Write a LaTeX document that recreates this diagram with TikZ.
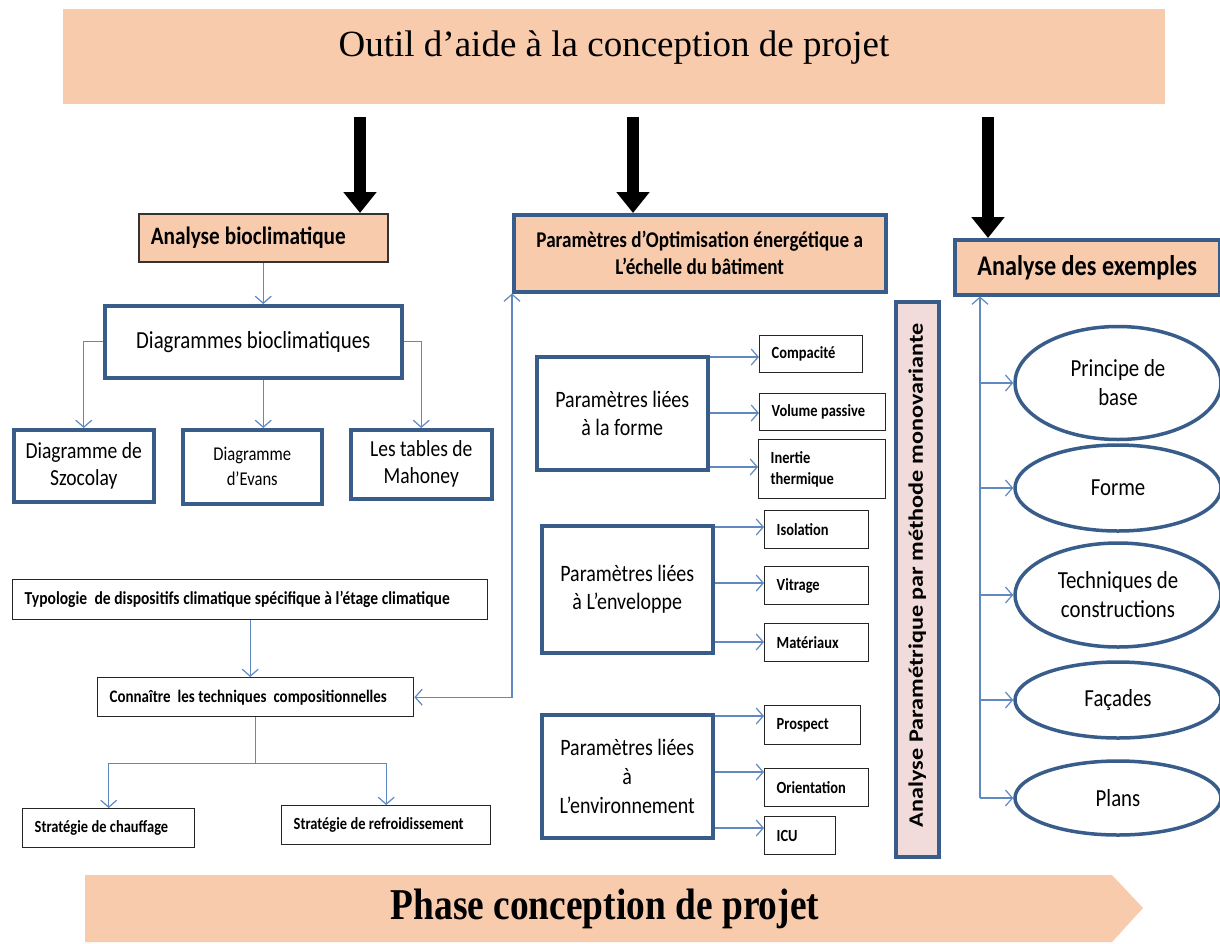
\documentclass[tikz,border=0pt]{standalone}
\usepackage{fontspec}
\setmainfont{Carlito}[FakeStretch=0.85]
\newfontfamily\vertf{Carlito}[FakeStretch=1.18]
\newfontfamily\timesf{Liberation Serif}
\newfontfamily\timesc{Liberation Serif}[FakeStretch=0.85]
\usetikzlibrary{arrows.meta,shapes.geometric,calc}
\definecolor{peach}{HTML}{F8CBAD}
\definecolor{bblue}{HTML}{385D8A}
\definecolor{cblue}{HTML}{5F89C0}
\definecolor{pinkf}{HTML}{F2DCDB}
\newcommand\fsz[2]{\fontsize{#1pt}{#2pt}\selectfont}
\newcommand\fss[2]{\fontsize{#1pt}{#2pt}\selectfont\spaceskip=0.2em plus 0.1em minus 0.05em\relax}
\begin{document}
\begin{tikzpicture}[x=1pt,y=-1pt,
  thickbox/.style={draw=bblue, line width=3.5pt, fill=white, anchor=north west, inner sep=0pt, align=center},
  thinbox/.style={draw=black!85, line width=1.4pt, fill=white, anchor=north west, inner ysep=0pt, inner xsep=12pt, align=flush left, font=\bfseries\fss{17}{21}},
  conn/.style={draw=cblue, line width=1.2pt, -{Straight Barb[length=7pt,width=16pt]}},
  bigarrow/.style={line width=12pt, -{Triangle[length=21pt,width=32pt]}},
  ell/.style={ellipse, draw=bblue, line width=3.5pt, fill=white, inner sep=0pt, align=center, minimum width=206, font=\fsz{24.5}{29}}
]
\useasboundingbox (0,0) rectangle (1220,943);
\fill[white] (0,0) rectangle (1220,943);

% title banner
\fill[peach] (63,9) rectangle (1165,104);
\node[font=\timesf\fsz{37}{40}] (title) at (614,48) {Outil d’aide à la conception de projet};

% bottom banner
\fill[peach] (85,875) -- (1112,875) -- (1143,908) -- (1112,942) -- (85,942) -- cycle;
\node[font=\timesc\bfseries\fsz{44}{46}] (phase) at (605,909) {Phase conception de projet};

% ---------- left column ----------
\node[draw=black!80, line width=1.5pt, fill=peach, anchor=north west, inner xsep=12pt, inner ysep=0pt, text width=225pt, minimum height=48, align=flush left, font=\bfseries\fss{25}{26}] (ab) at (138,213) {Analyse bioclimatique};
\node[thickbox, minimum width=297, minimum height=72, font=\fsz{24.5}{28}] (dg) at (103,304) {Diagrammes bioclimatiques};
\node[thickbox, minimum width=140, minimum height=72, font=\fsz{23}{27}] (sz) at (12,428) {Diagramme de\\Szocolay};
\node[thickbox, minimum width=139, minimum height=74, font=\fsz{19.5}{25}] (ev) at (181,428) {Diagramme\\d’Evans};
\node[thickbox, minimum width=141, minimum height=69, font=\fsz{23}{27}] (mh) at (349,428) {Les tables de\\Mahoney};

\node[thinbox, text width=451pt, minimum height=40, font=\bfseries\fss{18.3}{20}] (ty) at (12,579) {Typologie\ \ de dispositifs climatique spécifique à l’étage climatique};
\node[thinbox, text width=292pt, minimum height=39, font=\bfseries\fss{17.6}{20}] (cn) at (97,677) {Connaître\ \ les techniques\ \ compositionnelles};
\node[thinbox, text width=148pt, minimum height=39, font=\bfseries\fss{17}{20}] (ch) at (22,808) {Stratégie de chauffage};
\node[thinbox, text width=185pt, minimum height=39, font=\bfseries\fss{17}{20}] (rf) at (281,805) {Stratégie de refroidissement};

% ---------- middle column ----------
\node[thickbox, fill=peach, minimum width=372, minimum height=77, font=\bfseries\fsz{22.5}{27}] (po) at (512,213) {Paramètres d’Optimisation énergétique a\\L’échelle du bâtiment};
\node[thickbox, minimum width=171, minimum height=113, font=\fsz{23.5}{28}] (pf) at (535,355) {Paramètres liées\\à la forme};
\node[thickbox, minimum width=171, minimum height=127, font=\fsz{23.5}{28}] (pe) at (540,524) {Paramètres liées\\à L’enveloppe};
\node[thickbox, minimum width=171, minimum height=123, font=\fsz{23.5}{29}] (pv) at (540,713) {Paramètres liées\\à\\L’environnement};

\node[thinbox, text width=79pt, minimum height=37] (c1) at (759,335) {Compacité};
\node[thinbox, text width=102pt, minimum height=37] (c2) at (759,393) {Volume passive};
\node[thinbox, text width=103pt, minimum height=59] (c3) at (758,439) {Inertie\\thermique};
\node[thinbox, text width=80pt, minimum height=38] (e1) at (764,510) {Isolation};
\node[thinbox, text width=80pt, minimum height=38] (e2) at (764,566) {Vitrage};
\node[thinbox, text width=80pt, minimum height=38] (e3) at (764,623) {Matériaux};
\node[thinbox, text width=72pt, minimum height=39] (v1) at (764,705) {Prospect};
\node[thinbox, text width=80pt, minimum height=38] (v2) at (764,768) {Orientation};
\node[thinbox, text width=47pt, minimum height=38] (v3) at (764,816) {ICU};

\node[thickbox, fill=pinkf, minimum width=43, minimum height=555] (am) at (894,300) {};
\node[rotate=90, font=\vertf\bfseries\fsz{20.5}{24}] (amt) at ($(am.center)+(0,-4)$) {Analyse Paramétrique par méthode monovariante};

% ---------- right column ----------
\node[thickbox, fill=peach, minimum width=265, minimum height=55, font=\bfseries\fsz{28.5}{30}] (ae) at (953,238) {Analyse des exemples};
\node[ell, minimum height=113] (pb) at (1118,383) {Principe de\\base};
\node[ell, minimum height=86] (fo) at (1118,488) {Forme};
\node[ell, minimum height=104] (tc) at (1118,595) {Techniques de\\constructions};
\node[ell, minimum height=76] (fa) at (1118,700) {Façades};
\node[ell, minimum height=74] (pl) at (1118,798) {Plans};

% ---------- big black arrows ----------
\coordinate (a1) at (360,117);
\coordinate (a2) at (633,117);
\coordinate (a3) at (988,117);
\draw[bigarrow] (a1) -- (a1 |- ab.north);
\draw[bigarrow] (a2) -- (a2 |- po.north);
\draw[bigarrow] (a3) -- (a3 |- ae.north);

% ---------- connectors left ----------
\draw[conn] (ab.south) -- (ab.south |- dg.north);
\draw[conn] (dg.west) -| (sz.north);
\draw[conn] (dg.south -| ab.south) -- (ab.south |- ev.north);
\draw[conn] (dg.east) -| (mh.north);
\draw[conn] (ty.south) -- (ty.south |- cn.north);
\coordinate (cnb) at ($(cn.south)+(0,46)$);
\draw[conn] (cn.south) -- (cnb) -| (ch.north);
\draw[conn] (cnb) -| (rf.north);
\draw[conn, {Straight Barb[length=7pt,width=16pt]}-{Straight Barb[length=7pt,width=16pt]}] (po.south west) -- (po.south west |- cn.east) -- (cn.east);

% ---------- connectors middle ----------
\draw[conn] (pf.east |- 0,357) -- (c1.west |- 0,357);
\draw[conn] (pf.east |- 0,413) -- (c2.west |- 0,413);
\draw[conn] (pf.east |- 0,467) -- (c3.west |- 0,467);
\draw[conn] (pe.east |- 0,527) -- (e1.west |- 0,527);
\draw[conn] (pe.east |- 0,583) -- (e2.west |- 0,583);
\draw[conn] (pe.east |- 0,642) -- (e3.west |- 0,642);
\draw[conn] (pv.east |- 0,716) -- (v1.west |- 0,716);
\draw[conn] (pv.east |- 0,772) -- (v2.west |- 0,772);
\draw[conn] (pv.east |- 0,828) -- (v3.west |- 0,828);

% ---------- connectors right ----------
\coordinate (tr) at (980,800);
\draw[conn] (tr |- pl.west) -- (tr |- ae.south);
\draw[conn] (tr |- pb.west) -- (pb.west);
\draw[conn] (tr |- fo.west) -- (fo.west);
\draw[conn] (tr |- tc.west) -- (tc.west);
\draw[conn] (tr |- fa.west) -- (fa.west);
\draw[conn] (tr |- pl.west) -- (pl.west);
\end{tikzpicture}
\end{document}
